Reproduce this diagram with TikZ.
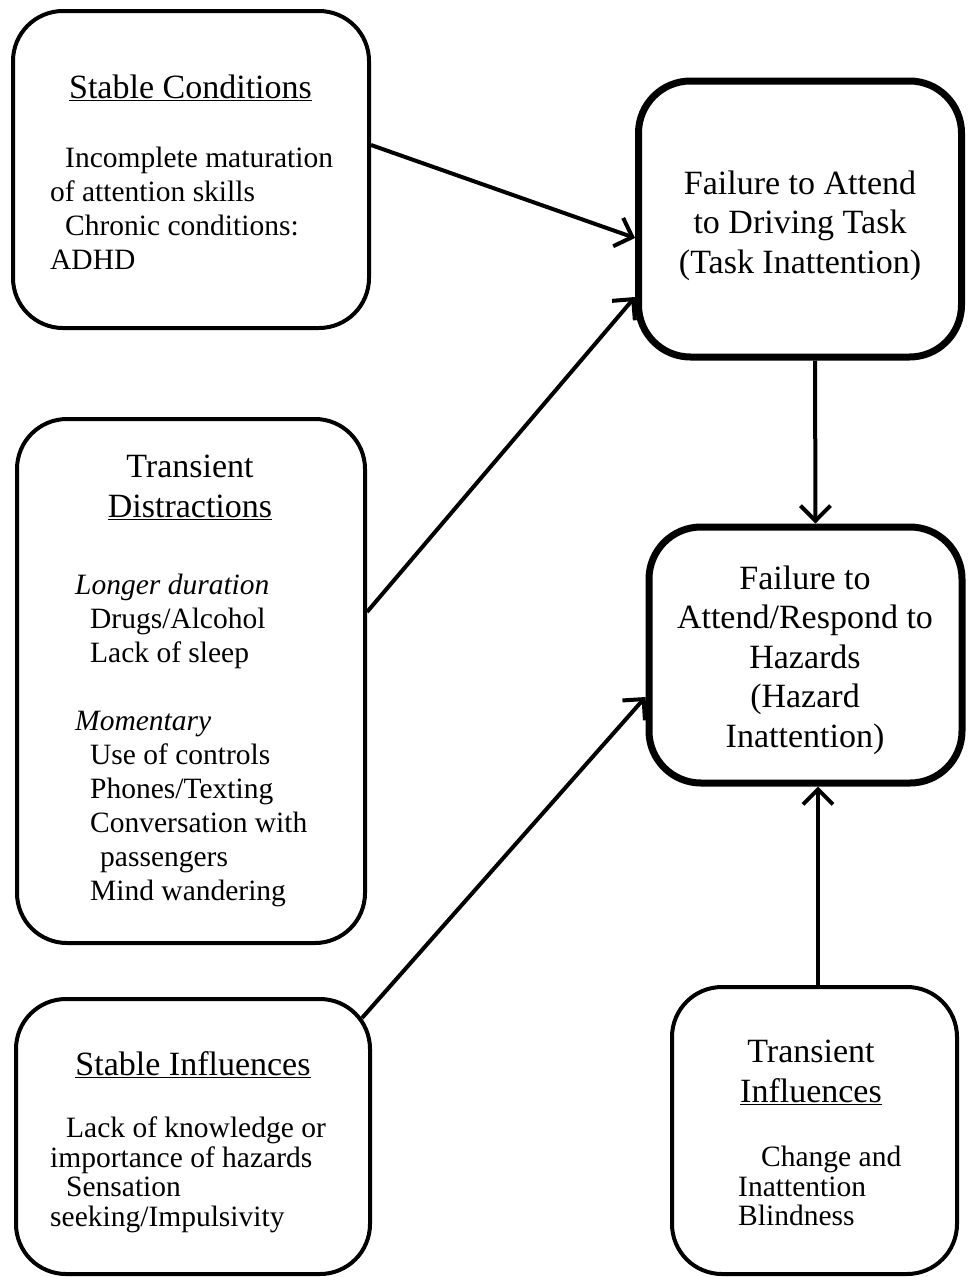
\documentclass[tikz,border=0pt]{standalone}
\usepackage{fontspec}
\setmainfont{Liberation Serif}
\usetikzlibrary{arrows.meta}
\begin{document}
\begin{tikzpicture}[x=1pt,y=-1pt,
  thinbox/.style={draw, line width=4pt, rounded corners=50pt, inner sep=0pt},
  thickbox/.style={draw, line width=7pt, rounded corners=52pt, inner sep=0pt},
  conn/.style={line width=4pt, -{Straight Barb[length=15pt,width=30pt]}},
  head/.style={font=\fontsize{34}{40}\selectfont, align=center, inner sep=0pt},
  headb/.style={font=\fontsize{34}{39.5}\selectfont, align=center, inner sep=0pt},
  body/.style={font=\fontsize{29.5}{34}\selectfont, align=left, inner sep=0pt},
  bodyb/.style={font=\fontsize{29.5}{29.5}\selectfont, align=left, inner sep=0pt},
]
\useasboundingbox (0,0) rectangle (967,1277);

% boxes
\node[thinbox, minimum width=356pt, minimum height=317pt] (sc) at (191,169.5) {};
\node[thickbox, minimum width=323pt, minimum height=276pt] (task) at (800,219) {};
\node[thickbox, minimum width=313pt, minimum height=256pt] (haz) at (805.5,655) {};
\node[thinbox, minimum width=348pt, minimum height=524pt] (td) at (191,681) {};
\node[thinbox, minimum width=354pt, minimum height=275pt] (si) at (193,1136.5) {};
\node[thinbox, minimum width=285pt, minimum height=287pt] (ti) at (814.5,1130.5) {};

% texts
\node[head, anchor=base] (sch) at (190.5,98) {\underline{Stable Conditions}};
\node[body, anchor=north west] (scb) at (50,147) {\hspace*{15pt}Incomplete maturation\\of attention skills\\\hspace*{15pt}Chronic conditions:\\ADHD};

\node[headb, anchor=north] (taskt) at (800,170.5) {Failure to Attend\\to Driving Task\\(Task Inattention)};
\node[headb, anchor=north] (hazt) at (805,565.5) {Failure to\\Attend/Respond to\\Hazards\\(Hazard\\Inattention)};

\node[head, anchor=north] (tdh) at (190,455) {Transient\\\underline{Distractions}};
\node[body, anchor=north west] (tdb) at (75,574) {\textit{Longer duration}\\\hspace*{15pt}Drugs/Alcohol\\\hspace*{15pt}Lack of sleep\\[34pt]\textit{Momentary}\\\hspace*{15pt}Use of controls\\\hspace*{15pt}Phones/Texting\\\hspace*{15pt}Conversation with\\\hspace*{25pt}passengers\\\hspace*{15pt}Mind wandering};

\node[head, anchor=base] (sih) at (193,1075) {\underline{Stable Influences}};
\node[bodyb, anchor=north west] (sib) at (50,1117) {\hspace*{16pt}Lack of knowledge or\\importance of hazards\\\hspace*{16pt}Sensation\\seeking/Impulsivity};

\node[head, anchor=north] (tih) at (811,1040) {Transient\\\underline{Influences}};
\node[bodyb, anchor=north west] (tib) at (738,1146) {\hspace*{23pt}Change and\\Inattention\\Blindness};

% connectors
\draw[conn] ([yshift=24.5pt]sc.east) -- ([yshift=-19pt]task.west);
\draw[conn] ([yshift=69pt]td.east) -- ([yshift=-78pt]task.west);
\draw[conn] ([xshift=-10pt,yshift=-21pt]si.north east) -- ([yshift=-42pt]haz.west);
\draw[conn] ([xshift=15pt]task.south) -- ([xshift=10pt]haz.north);
\draw[conn] ([xshift=3.5pt]ti.north) -- ([xshift=12.5pt]haz.south);
\end{tikzpicture}
\end{document}
